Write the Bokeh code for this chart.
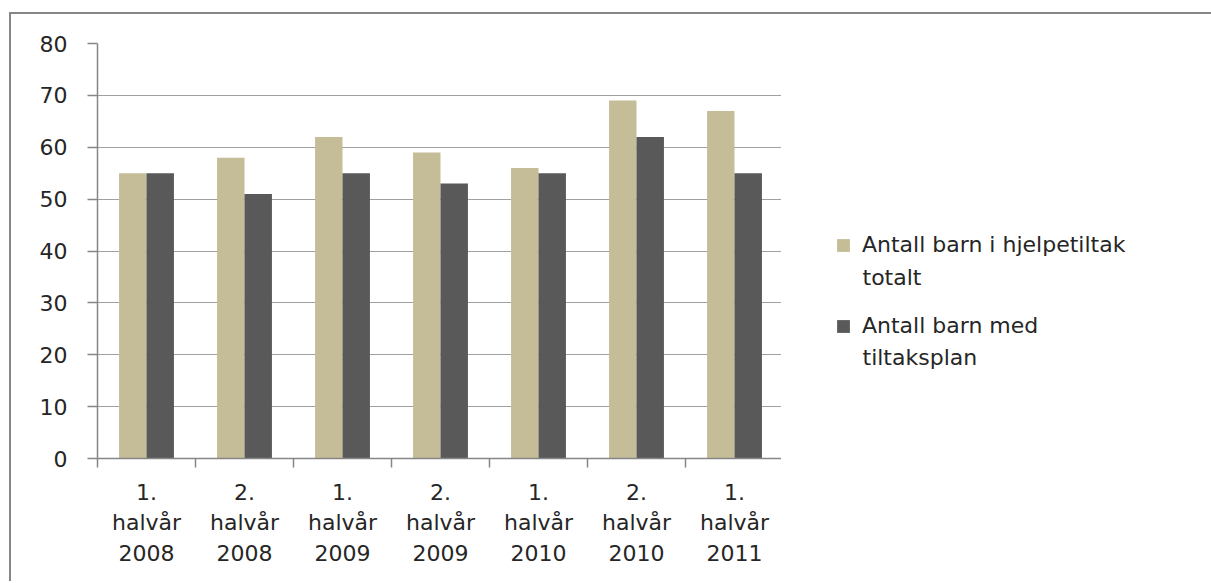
from bokeh.plotting import figure
from bokeh.layouts import row
from bokeh.models import Legend, LegendItem, FixedTicker, Range1d, ColumnDataSource, Label
from bokeh.transform import dodge
from bokeh.embed import file_html
from bokeh.resources import INLINE

categories = ["1.\nhalvår\n2008", "2.\nhalvår\n2008", "1.\nhalvår\n2009",
              "2.\nhalvår\n2009", "1.\nhalvår\n2010", "2.\nhalvår\n2010",
              "1.\nhalvår\n2011"]
totalt = [55, 58, 62, 59, 56, 69, 67]
tiltaksplan = [55, 51, 55, 53, 55, 62, 55]
series_first = ["Antall barn i hjelpetiltak", "Antall barn med"]
series_second = ["totalt", "tiltaksplan"]
y_ticks = [0, 10, 20, 30, 40, 50, 60, 70, 80]
colors = ["#C4BD97", "#595959"]

FONT = "DejaVu Sans"
TEXT = "#262626"
AXIS = "#868686"

n = len(categories)
xs = [i + 0.5 for i in range(n)]
src = ColumnDataSource(dict(x=xs, totalt=totalt, tiltaksplan=tiltaksplan))

# ---- main chart ----
p = figure(width=772, height=569, x_range=Range1d(0, n), y_range=Range1d(0, 80),
           output_backend="svg", toolbar_location=None,
           min_border_left=86, min_border_right=0, min_border_top=29, min_border_bottom=125)
p.styles = {"margin-left": "9px", "margin-top": "12px",
            "border-left": "2px solid #868686", "border-top": "2px solid #868686"}
p.outline_line_color = None
p.background_fill_color = "white"
p.border_fill_color = "white"

p.vbar(x=dodge("x", -0.14, range=p.x_range), top="totalt", width=0.28, source=src,
       fill_color=colors[0], line_color=None)
p.vbar(x=dodge("x", 0.14, range=p.x_range), top="tiltaksplan", width=0.28, source=src,
       fill_color=colors[1], line_color=None)

xa = p.xaxis[0]
xa.ticker = FixedTicker(ticks=xs, minor_ticks=list(range(n + 1)))
xa.major_label_overrides = {x: lab for x, lab in zip(xs, categories)}
xa.major_tick_line_color = None
xa.minor_tick_line_color = AXIS
xa.minor_tick_line_width = 1.5
xa.minor_tick_out = 9
xa.minor_tick_in = 0
xa.axis_line_color = AXIS
xa.axis_line_width = 1.5
xa.major_label_standoff = 12
xa.major_label_text_font = FONT
xa.major_label_text_font_size = "22px"
xa.major_label_text_color = TEXT
xa.major_label_text_line_height = 1.23

ya = p.yaxis[0]
ya.ticker = FixedTicker(ticks=y_ticks, minor_ticks=[])
ya.major_tick_out = 10
ya.major_tick_in = 0
ya.major_tick_line_color = AXIS
ya.major_tick_line_width = 1.5
ya.minor_tick_line_color = None
ya.axis_line_color = AXIS
ya.axis_line_width = 1.5
ya.major_label_standoff = 20
ya.major_label_text_font = FONT
ya.major_label_text_font_size = "22px"
ya.major_label_text_color = TEXT

p.xgrid.visible = False
p.ygrid.grid_line_color = "#A0A0A0"
p.ygrid.grid_line_width = 1.2

# ---- legend panel (its frame is aligned with the main frame; data units = page pixels) ----
p2 = figure(width=430, height=569, x_range=Range1d(781, 1211), y_range=Range1d(458, 43),
            output_backend="svg", toolbar_location=None,
            min_border_left=0, min_border_right=0, min_border_top=29, min_border_bottom=125)
p2.styles = {"margin-top": "12px", "border-top": "2px solid #868686"}
p2.axis.visible = False
p2.grid.visible = False
p2.outline_line_color = None
p2.background_fill_color = "white"
p2.border_fill_color = "white"

# legend proxies: same series, zero-height and outside this panel's range (nothing drawn)
proxies = [p2.vbar(x="x", top=col, bottom=col, width=0.28, source=src,
                   fill_color=c, line_color=None)
           for col, c in zip(["totalt", "tiltaksplan"], colors)]

legend = Legend(items=[LegendItem(label=series_first[i], renderers=[proxies[i]]) for i in range(2)],
                location=(54, 120), padding=0, margin=0, spacing=56,
                glyph_width=16, glyph_height=16, label_standoff=11,
                label_text_font=FONT, label_text_font_size="22px",
                label_text_color=TEXT, label_text_baseline="middle",
                border_line_color=None, background_fill_alpha=0)
p2.add_layout(legend, "center")

for yy, txt in zip([277, 357], series_second):
    p2.add_layout(Label(x=862, y=yy, text=txt, text_font=FONT, text_font_size="22px",
                        text_color=TEXT, text_baseline="middle", text_align="left"))

open("out.html", "w").write(file_html(row(p, p2), INLINE))
